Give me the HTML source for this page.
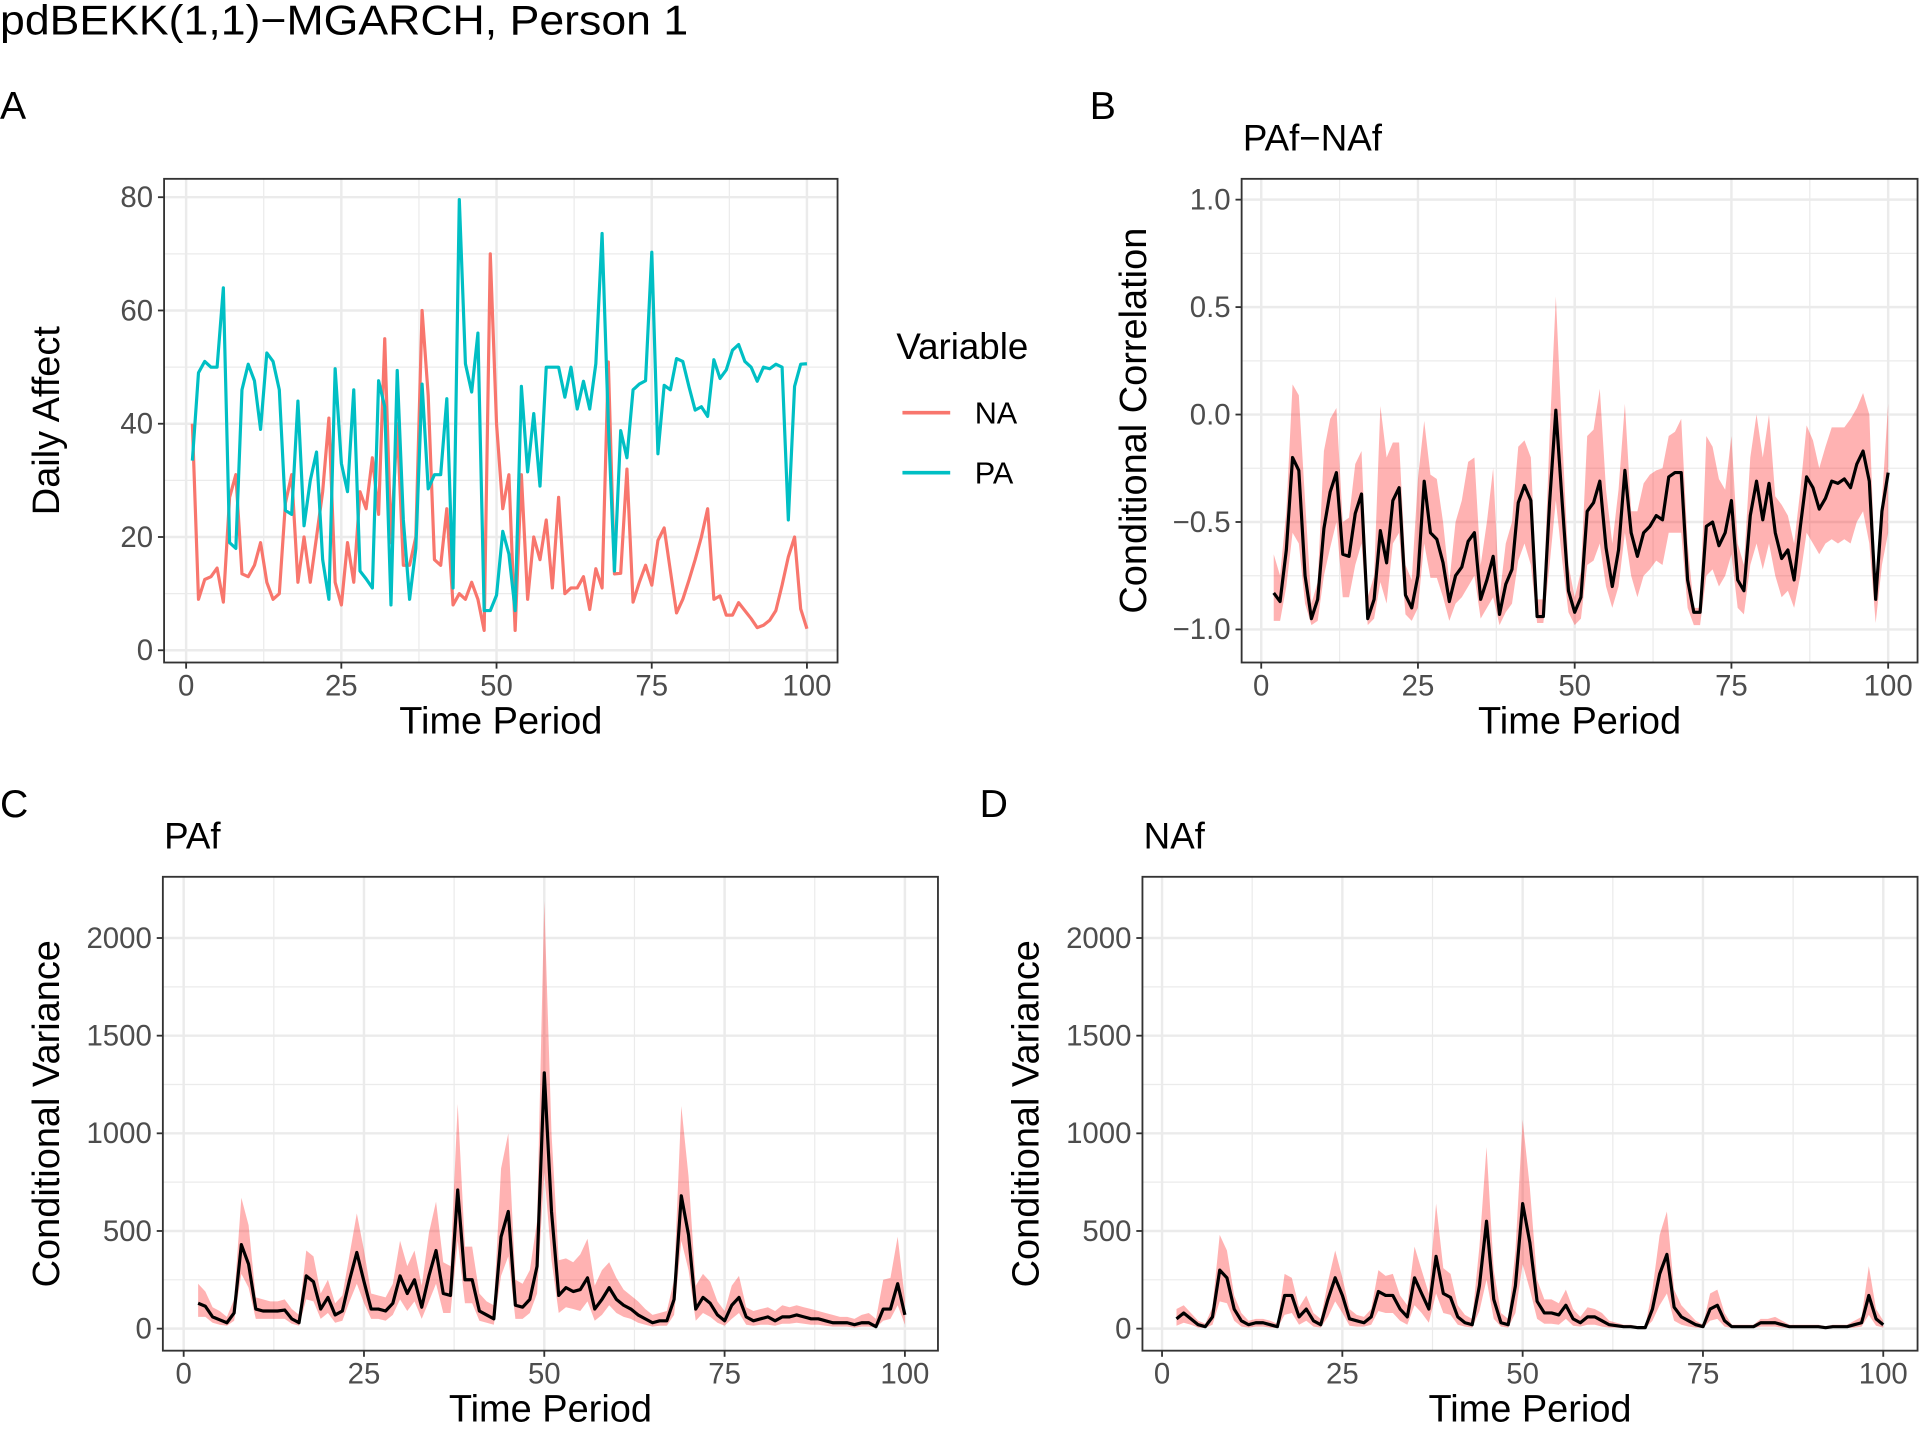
<!DOCTYPE html>
<html><head><meta charset="utf-8"><style>
html,body{margin:0;padding:0;background:#fff;}
svg{display:block;font-family:"Liberation Sans",sans-serif;}
</style></head><body>
<svg id="fig" width="1920" height="1434" viewBox="0 0 1568 1171" xmlns="http://www.w3.org/2000/svg">
<text x="0" y="28" font-size="34" fill="#000" textLength="562" lengthAdjust="spacingAndGlyphs">pdBEKK(1,1)−MGARCH, Person 1</text>
<text x="0" y="97" font-size="32">A</text>
<text x="890" y="97" font-size="32">B</text>
<text x="0" y="667" font-size="32">C</text>
<text x="800" y="667" font-size="32">D</text>
<g>
<text x="732" y="293" font-size="30">Variable</text>
<line x1="737" y1="337" x2="776" y2="337" stroke="#F8766D" stroke-width="3"/>
<text x="796" y="346" font-size="25">NA</text>
<line x1="737" y1="386" x2="776" y2="386" stroke="#00BFC4" stroke-width="3"/>
<text x="796" y="395" font-size="25">PA</text>
</g>
</svg>
<script>
const timeA = Array.from({length:100},(_,i)=>i+1);
const paValues = [33.5,49,51,50,50,64,19,18,46,50.5,47.6,39,52.5,51,46,24.7,24,44,22,30,35,16,9,49.7,33,28,46,14,12.6,11,47.6,43,8,49.4,23,9,18,47,28.5,31,31,44.4,11,79.6,50.6,45.6,56,7,7,9.7,21,17,7,46.6,31.5,41.8,29,50,50,50,44.7,50,42.6,47.5,42.6,50.6,73.6,40,14,38.8,34,46,47,47.6,70.3,34.7,46.8,46,51.5,51,46.5,42.4,43,41.3,51.3,48,49.5,53,54,51,50,47.5,50,49.7,50.5,50,23,46.6,50.5,50.6];
const naValues = [40,9,12.5,13,14.5,8.5,27,31,13.5,13,15,19,12,9,10,26,31,12,20,12,20,28,41,12,8,19,12,28,25,34,24,55,19,40,15,15,20,60,45,16,15,25,8,10,9,12,9,3.5,70,40,25,31,3.5,31,9,20,16,23,11,27,10,11,11,13,7.2,14.4,11,50.9,13.5,13.6,32,8.5,12,15,11.5,19.4,21.6,14,6.6,9,12.4,16,20,25,9,9.6,6.2,6.2,8.4,7,5.6,4,4.4,5.3,7,11.5,16.5,20,7.3,3.8];
const timeB = Array.from({length:99},(_,i)=>i+2);
const corrMean = [-0.83,-0.87,-0.63,-0.2,-0.26,-0.75,-0.95,-0.86,-0.53,-0.36,-0.27,-0.65,-0.66,-0.46,-0.37,-0.95,-0.86,-0.54,-0.69,-0.4,-0.34,-0.84,-0.9,-0.75,-0.31,-0.55,-0.58,-0.69,-0.87,-0.75,-0.71,-0.59,-0.55,-0.86,-0.77,-0.66,-0.93,-0.79,-0.72,-0.41,-0.33,-0.4,-0.94,-0.94,-0.41,0.02,-0.41,-0.82,-0.92,-0.85,-0.45,-0.41,-0.31,-0.62,-0.8,-0.63,-0.26,-0.55,-0.66,-0.55,-0.52,-0.47,-0.49,-0.29,-0.27,-0.27,-0.77,-0.92,-0.92,-0.52,-0.5,-0.61,-0.55,-0.4,-0.77,-0.82,-0.47,-0.31,-0.49,-0.32,-0.55,-0.67,-0.63,-0.77,-0.52,-0.29,-0.34,-0.44,-0.39,-0.31,-0.32,-0.3,-0.34,-0.23,-0.17,-0.31,-0.86,-0.45,-0.27];
const corrUpper = [-0.65,-0.75,-0.45,0.14,0.09,-0.4,-0.88,-0.78,-0.17,-0.02,0.03,-0.5,-0.48,-0.23,-0.17,-0.85,-0.75,0.04,-0.2,-0.13,-0.13,-0.7,-0.77,-0.3,-0.03,-0.28,-0.3,-0.5,-0.78,-0.5,-0.4,-0.22,-0.2,-0.7,-0.5,-0.25,-0.85,-0.6,-0.5,-0.15,-0.12,-0.2,-0.86,-0.86,-0.1,0.55,-0.1,-0.7,-0.85,-0.73,-0.1,-0.07,0.12,-0.35,-0.6,-0.35,0.05,-0.45,-0.45,-0.32,-0.28,-0.26,-0.25,-0.1,-0.08,-0.02,-0.6,-0.9,-0.9,-0.1,-0.15,-0.3,-0.35,-0.1,-0.6,-0.7,-0.2,0.0,-0.2,0.0,-0.38,-0.42,-0.47,-0.6,-0.35,-0.05,-0.12,-0.25,-0.15,-0.06,-0.06,-0.06,-0.02,0.03,0.1,0.0,-0.8,-0.4,0.05];
const corrLower = [-0.96,-0.96,-0.8,-0.55,-0.6,-0.88,-0.98,-0.96,-0.75,-0.62,-0.5,-0.85,-0.85,-0.7,-0.6,-0.98,-0.95,-0.78,-0.88,-0.6,-0.55,-0.93,-0.96,-0.9,-0.6,-0.76,-0.76,-0.85,-0.96,-0.88,-0.85,-0.8,-0.75,-0.95,-0.9,-0.85,-0.98,-0.92,-0.88,-0.68,-0.6,-0.7,-0.97,-0.97,-0.7,-0.4,-0.68,-0.92,-0.98,-0.95,-0.7,-0.68,-0.6,-0.8,-0.9,-0.8,-0.55,-0.75,-0.85,-0.75,-0.72,-0.68,-0.7,-0.55,-0.55,-0.55,-0.9,-0.98,-0.98,-0.75,-0.72,-0.8,-0.75,-0.65,-0.9,-0.93,-0.7,-0.6,-0.72,-0.6,-0.75,-0.85,-0.82,-0.9,-0.75,-0.55,-0.6,-0.65,-0.6,-0.58,-0.6,-0.58,-0.6,-0.5,-0.45,-0.6,-0.97,-0.7,-0.55];
const timeC = Array.from({length:99},(_,i)=>i+2);
const pafMean = [130,115,60,45,30,80,430,330,100,90,90,90,95,50,30,270,240,100,160,70,90,250,390,240,100,100,90,130,270,180,250,110,270,400,180,170,710,250,250,90,70,50,470,600,120,110,150,320,1310,600,170,210,190,200,260,100,150,210,150,120,100,70,50,30,40,40,150,680,480,100,160,130,70,40,120,160,60,40,50,60,40,60,60,70,60,50,50,40,30,30,30,20,30,30,10,100,100,230,70];
const pafUpper = [230,190,110,90,60,150,670,530,160,150,140,140,150,100,70,400,370,180,250,130,170,380,590,400,180,170,160,230,450,320,400,220,490,650,340,320,1150,420,420,180,140,120,820,1000,250,230,300,550,2190,1000,350,360,340,380,460,220,300,340,260,200,170,140,100,70,80,90,250,1140,780,220,280,240,140,90,220,270,110,90,100,110,90,120,110,120,110,100,90,80,70,60,60,50,70,80,50,250,260,470,150];
const pafLower = [60,60,30,20,15,40,280,210,50,50,50,50,50,25,15,150,140,50,80,30,40,140,230,130,50,50,40,70,150,90,140,50,140,230,80,80,450,130,130,40,30,20,270,370,50,50,80,180,800,350,80,110,100,90,140,40,70,120,80,60,50,30,20,10,15,15,70,450,300,40,80,60,30,15,50,80,20,15,20,20,15,25,25,30,25,20,20,15,10,10,10,5,10,10,5,40,50,120,20];
const nafMean = [50,80,50,20,10,60,300,260,100,40,20,30,30,20,10,170,170,60,100,40,20,150,260,170,50,40,30,60,190,170,170,100,60,260,180,100,370,180,160,60,30,20,220,550,150,30,20,220,640,440,140,80,80,70,120,50,30,60,60,40,20,15,10,10,5,5,100,280,380,110,60,40,20,10,100,120,40,10,10,10,10,30,30,30,20,10,10,10,10,10,5,10,10,10,20,30,170,50,20];
const nafUpper = [100,120,80,40,25,110,480,400,170,80,40,50,50,40,25,280,260,110,170,80,50,240,400,260,100,70,60,100,300,270,280,170,120,420,300,180,640,310,280,120,70,50,420,930,300,80,50,400,1070,720,250,150,150,130,200,100,60,110,100,80,40,30,20,20,12,12,200,480,600,200,120,80,40,20,180,200,80,20,20,20,20,50,50,60,40,20,20,20,20,20,12,20,20,20,40,60,320,100,40];
const nafLower = [15,30,20,5,3,20,140,130,40,10,5,10,10,5,3,70,80,20,40,10,5,60,140,80,15,10,10,20,90,80,80,40,20,120,80,30,180,80,70,20,10,5,90,250,50,10,5,80,330,200,50,25,25,20,50,15,10,20,20,10,5,5,3,3,1,1,40,120,180,40,20,10,5,3,40,50,10,3,3,3,3,10,10,10,5,3,3,3,3,3,1,3,3,3,5,10,70,15,5];
const xTicks = [0,25,50,75,100];
const yTicksA = [0,20,40,60,80];
const yTicksB = [-1.0,-0.5,0.0,0.5,1.0];
const yTickLabelsB = ["−1.0","−0.5","0.0","0.5","1.0"];
const yTicksC = [0,500,1000,1500,2000];

const NS="http://www.w3.org/2000/svg";
const svg=document.getElementById('fig');
function mk(tag,attrs,parent){const e=document.createElementNS(NS,tag);for(const k in attrs)e.setAttribute(k,attrs[k]);(parent||svg).appendChild(e);return e;}
function lin(d0,d1,r0,r1){return v=>r0+(v-d0)*(r1-r0)/(d1-d0);}

function panel(cfg){
  const g=mk('g',{});
  
  
  const X=lin(0,100,cfg.x0,cfg.x100), Y=lin(cfg.yd0,cfg.yd1,cfg.yr0,cfg.yr1);
  const b=cfg.box;
  mk('rect',{x:b[0],y:b[1],width:b[2]-b[0],height:b[3]-b[1],fill:'#fff'},g);
  for(let i=0;i<xTicks.length-1;i++){const v=(xTicks[i]+xTicks[i+1])/2;mk('line',{x1:X(v),x2:X(v),y1:b[1],y2:b[3],stroke:'#ebebeb','stroke-width':1},g);}
  for(let i=0;i<cfg.yt.length-1;i++){const v=(cfg.yt[i]+cfg.yt[i+1])/2;mk('line',{x1:b[0],x2:b[2],y1:Y(v),y2:Y(v),stroke:'#ebebeb','stroke-width':1},g);}
  xTicks.forEach(v=>{const l=mk('line',{x1:X(v),x2:X(v),y1:b[1],y2:b[3],stroke:'#ebebeb','stroke-width':2},g);
    
    
    mk('line',{x1:X(v),x2:X(v),y1:b[3],y2:b[3]+5,stroke:'#333','stroke-width':1.5},g);
    const t=mk('text',{x:X(v),y:b[3]+27,'font-size':24,'text-anchor':'middle',fill:'#4d4d4d'},g);t.textContent=v;
    
    });
  cfg.yt.forEach((v,i)=>{const l=mk('line',{x1:b[0],x2:b[2],y1:Y(v),y2:Y(v),stroke:'#ebebeb','stroke-width':2},g);
    
    
    mk('line',{x1:b[0]-5,x2:b[0],y1:Y(v),y2:Y(v),stroke:'#333','stroke-width':1.5},g);
    const t=mk('text',{x:b[0]-9,y:Y(v)+8,'font-size':24,'text-anchor':'end',fill:'#4d4d4d'},g);t.textContent=cfg.ytl?cfg.ytl[i]:v;
    
    });
  if(cfg.ribbon){const r=cfg.ribbon;let d='';
    r.t.forEach((t,i)=>{d+=(i?'L':'M')+X(t).toFixed(1)+','+Y(r.hi[i]).toFixed(1);});
    for(let i=r.t.length-1;i>=0;i--)d+='L'+X(r.t[i]).toFixed(1)+','+Y(r.lo[i]).toFixed(1);
    const p=mk('path',{d:d+'Z',fill:'#ff0000','fill-opacity':0.3},g);
    
    }
  cfg.series.forEach(s=>{const pts=s.t.map((t,i)=>X(t).toFixed(1)+','+Y(s.v[i]).toFixed(1)).join(' ');
    const p=mk('polyline',{points:pts,fill:'none',stroke:s.color,'stroke-width':s.w,'stroke-linejoin':'round'},g);
    
    });
  const f=mk('rect',{x:b[0],y:b[1],width:b[2]-b[0],height:b[3]-b[1],fill:'none',stroke:'#333','stroke-width':1.5},g);
  
  
  const xt=mk('text',{x:(b[0]+b[2])/2,y:b[3]+58,'font-size':31,'text-anchor':'middle'},g);xt.textContent='Time Period';
  
  
  const yt=mk('text',{x:0,y:0,'font-size':31,'text-anchor':'middle',transform:`translate(${cfg.ytx},${(b[1]+b[3])/2}) rotate(-90)`},g);yt.textContent=cfg.ytitle;
  
  
  if(cfg.title){const tt=mk('text',{x:b[0]+1,y:b[1]-23,'font-size':30},g);tt.textContent=cfg.title;
    
    }
}
panel({name:'panel-a',box:[134,146,684,541],x0:152,x100:659,yd0:0,yd1:80,yr0:531,yr1:161,yt:yTicksA,ytx:48,ytitle:'Daily Affect',
  series:[{name:'na-line',t:timeA,v:naValues,color:'#F8766D',w:2.6},{name:'pa-line',t:timeA,v:paValues,color:'#00BFC4',w:2.6}]});
panel({name:'panel-b',box:[1014,146,1566,541],x0:1030,x100:1542,yd0:-1,yd1:1,yr0:514,yr1:163,yt:yTicksB,ytl:yTickLabelsB,ytx:936,ytitle:'Conditional Correlation',title:'PAf−NAf',
  ribbon:{t:timeB,hi:corrUpper,lo:corrLower},series:[{name:'correlation-line',t:timeB,v:corrMean,color:'#000',w:2.6}]});
panel({name:'panel-c',box:[133,716,766,1103],x0:150,x100:739,yd0:0,yd1:2000,yr0:1085,yr1:766,yt:yTicksC,ytx:48,ytitle:'Conditional Variance',title:'PAf',
  ribbon:{t:timeC,hi:pafUpper,lo:pafLower},series:[{name:'paf-variance-line',t:timeC,v:pafMean,color:'#000',w:2.6}]});
panel({name:'panel-d',box:[933,716,1566,1103],x0:949,x100:1538,yd0:0,yd1:2000,yr0:1085,yr1:766,yt:yTicksC,ytx:848,ytitle:'Conditional Variance',title:'NAf',
  ribbon:{t:timeC,hi:nafUpper,lo:nafLower},series:[{name:'naf-variance-line',t:timeC,v:nafMean,color:'#000',w:2.6}]});
</script>
</body></html>
